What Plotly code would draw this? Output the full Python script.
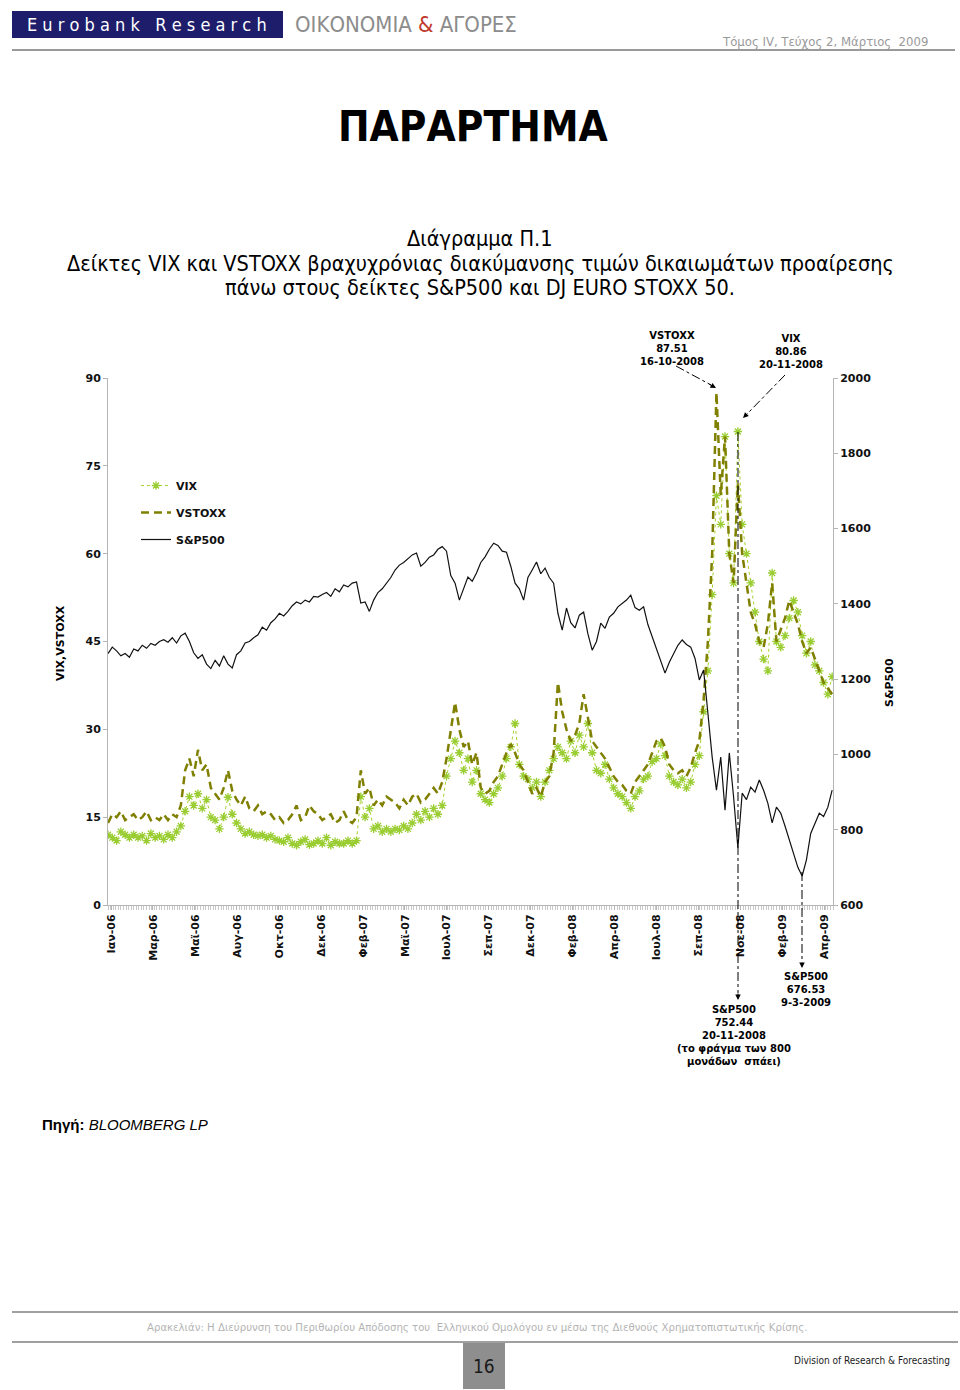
import plotly.graph_objects as go

# ---------------- data (weekly samples) ----------------
tick_labels = ["Ιαν-06", "Μαρ-06", "Μαϊ-06", "Αυγ-06", "Οκτ-06", "Δεκ-06", "Φεβ-07", "Μαϊ-07",
               "Ιουλ-07", "Σεπ-07", "Δεκ-07", "Φεβ-08", "Απρ-08", "Ιουλ-08", "Σεπ-08", "Νοε-08",
               "Φεβ-09", "Απρ-09"]

sp500 = [1268, 1285, 1275, 1262, 1268, 1258, 1280, 1275, 1290, 1282,
         1295, 1290, 1300, 1305, 1298, 1310, 1296, 1315, 1322, 1300,
         1270, 1255, 1265, 1240, 1228, 1250, 1235, 1262, 1240, 1230,
         1265, 1275, 1296, 1300, 1310, 1318, 1338, 1330, 1350, 1360,
         1375, 1368, 1380, 1395, 1405, 1400, 1410, 1405, 1420, 1418,
         1425, 1430, 1420, 1440, 1432, 1450, 1445, 1455, 1458, 1402,
         1405, 1380, 1410, 1430, 1440, 1455, 1470, 1490, 1503, 1510,
         1520, 1530, 1535, 1500, 1510, 1524, 1530, 1545, 1552, 1540,
         1475, 1455, 1410, 1440, 1471, 1460, 1482, 1510, 1525, 1545,
         1561, 1555, 1540, 1537, 1500, 1455, 1440, 1410, 1470, 1490,
         1511, 1480, 1495, 1470, 1455, 1375, 1330, 1389, 1350, 1336,
         1370, 1378, 1320, 1277, 1300, 1349, 1335, 1365, 1375, 1392,
         1400, 1410, 1423, 1390, 1383, 1392, 1345, 1312, 1280, 1250,
         1216, 1245, 1269, 1290, 1304, 1292, 1285, 1255, 1198, 1224,
         1110, 993, 905, 993, 852, 1004, 887, 752, 897, 880,
         913, 900, 932, 905, 870, 818, 860, 844, 810, 773,
         740, 700, 677, 720, 790, 818, 844, 835, 860, 905]

vix = [12.0, 11.5, 11.0, 12.5, 12.0, 11.5, 12.0, 11.5, 11.8, 11.0,
       12.2, 11.5, 11.8, 11.2, 12.0, 11.5, 12.5, 13.5, 16.0, 18.5,
       17.0, 19.0, 16.5, 18.0, 15.0, 14.5, 13.0, 15.0, 18.4, 15.5,
       14.0, 13.0, 12.2, 12.5, 12.0, 11.8, 12.0, 11.5, 11.8, 11.2,
       11.0, 10.8, 11.5, 10.5, 10.2, 10.8, 11.2, 10.3, 10.5, 11.0,
       10.5, 11.5, 10.2, 10.8, 10.5, 10.5, 11.0, 10.5, 11.0, 18.5,
       15.0, 16.5, 13.0, 13.5, 12.5, 13.0, 12.5, 13.0, 12.8, 13.5,
       13.0, 14.0, 15.5, 14.5, 16.0, 15.0, 16.5, 15.5, 17.0, 22.0,
       25.0, 28.0, 26.0, 23.0, 25.0, 21.0, 23.0, 19.0, 18.0, 17.5,
       19.0, 20.0, 22.0, 25.0, 27.0, 31.0, 24.0, 22.0, 21.5, 20.0,
       21.0, 18.5, 21.0, 23.0, 25.0, 27.0, 26.0, 25.0, 28.0, 26.0,
       29.0, 27.0, 31.0, 26.0, 23.0, 22.5, 24.0, 21.5, 20.0, 19.0,
       18.5, 17.5, 16.5, 18.5, 19.5, 21.5, 22.0, 24.5, 25.0, 27.5,
       25.5, 22.0, 21.0, 20.5, 21.5, 20.0, 21.0, 24.0, 25.5, 33.0,
       40.0, 53.0, 69.9, 65.0, 80.0, 60.0, 55.0, 80.86, 65.0, 60.0,
       55.0, 50.0, 45.0, 42.0, 40.0, 56.7, 45.0, 44.0, 46.0, 49.0,
       52.0, 50.0, 46.0, 43.0, 45.0, 41.0, 40.0, 38.0, 36.0, 39.0]

vstoxx = [14.0, 15.5, 15.0, 16.0, 14.5, 15.0, 15.5, 14.5, 15.0, 16.0,
          14.5, 15.0, 14.5, 15.5, 14.5, 15.5, 15.0, 17.0, 23.0, 25.0,
          22.0, 26.5, 23.0, 24.0, 20.0, 19.0, 18.0, 20.0, 23.0, 19.5,
          18.0, 17.0, 18.5, 16.5, 16.0, 17.0, 15.5, 16.0, 15.5, 14.5,
          15.0, 14.0, 14.5, 15.5, 17.0, 14.5, 15.0, 17.0, 16.0, 15.5,
          14.5, 15.0, 15.5, 14.0, 14.5, 16.0, 14.5, 14.0, 15.0, 23.0,
          19.0, 20.0, 17.0, 18.0, 17.0, 18.5, 18.0, 17.5, 16.5, 18.0,
          17.0, 18.5, 19.0, 17.5, 18.0, 19.0, 20.0, 19.0, 21.0, 25.0,
          30.0, 34.6, 30.0, 27.0, 28.0, 24.0, 26.0, 20.0, 19.0, 19.5,
          21.0, 22.0, 24.0, 26.0, 27.5, 26.0, 24.0, 23.0, 21.0, 19.0,
          20.0, 18.5, 21.0, 22.0, 26.0, 38.0, 33.0, 30.0, 28.0, 29.0,
          31.0, 36.0, 32.0, 28.0, 27.0, 26.0, 25.0, 23.5, 22.0, 21.0,
          20.5, 19.5, 19.0, 21.0, 22.0, 23.0, 24.0, 26.0, 28.0, 28.5,
          27.0, 24.0, 23.0, 22.5, 23.0, 22.0, 23.5, 26.0, 28.0, 35.0,
          45.0, 60.0, 87.51, 70.0, 80.0, 60.0, 55.0, 72.0, 60.0, 55.0,
          50.0, 48.0, 45.0, 44.0, 48.0, 55.0, 45.0, 47.0, 49.0, 52.0,
          50.0, 48.0, 45.0, 43.0, 44.0, 42.0, 40.0, 38.0, 37.0, 36.0]

days_per_point = 5          # one sample per trading week
label_every = 49            # trading days between category labels
xs = [i * days_per_point for i in range(len(sp500))]
tickvals = [3.5 + label_every * k for k in range(len(tick_labels))]

# ---------------- page geometry helpers ----------------
W, H = 960, 1390
L, R, T, B = 108, 833, 378, 905
NARROW = "DejaVu Sans Condensed, Liberation Sans, sans-serif"
SANS = "Liberation Sans, Arial, sans-serif"
VERD = "DejaVu Sans, Verdana, sans-serif"


def px(x, y):
    return (x - L) / (R - L), (B - y) / (B - T)


fig = go.Figure()

fig.add_trace(go.Scatter(
    x=xs, y=vix, name="VIX", mode="lines+markers", legendgroup="a",
    line=dict(color="#a6d22c", width=1, dash="dot"),
    marker=dict(symbol="asterisk-open", size=7, color="#9acd32",
                line=dict(color="#9acd32", width=1.3)),
))
fig.add_trace(go.Scatter(
    x=xs, y=vstoxx, name="VSTOXX", mode="lines", legendgroup="b",
    line=dict(color="#808000", width=2.5, dash="8px,5px"),
))
fig.add_trace(go.Scatter(
    x=xs, y=sp500, name="S&P500", mode="lines", yaxis="y2", legendgroup="c",
    line=dict(color="#111111", width=1.2),
))

axis_font = dict(family=VERD, size=11, color="#111111", weight="bold")

fig.update_layout(
    width=W, height=H, autosize=False,
    margin=dict(l=L, r=W - R, t=T, b=H - B, pad=0),
    paper_bgcolor="white", plot_bgcolor="white",
    showlegend=True,
    legend=dict(x=px(136, 0)[0], y=px(0, 471)[1], xanchor="left", yanchor="top",
                font=axis_font, bgcolor="rgba(0,0,0,0)", tracegroupgap=8,
                itemwidth=30),
    xaxis=dict(range=[0, 846], tickmode="array", tickvals=tickvals, ticktext=tick_labels,
               tickangle=-90, tickfont=axis_font, showgrid=False, zeroline=False,
               showline=True, linecolor="#b5b5b5", linewidth=1,
               ticks="outside", ticklen=4, tickcolor="#b5b5b5",
               minor=dict(tickmode="linear", tick0=0, dtick=3, ticks="outside",
                          ticklen=4, tickcolor="#c8c8c8")),
    yaxis=dict(range=[0, 90], tickmode="linear", tick0=0, dtick=15, tickfont=axis_font,
               showgrid=False, zeroline=False, showline=True, linecolor="#b5b5b5",
               ticks="outside", ticklen=4, tickcolor="#b5b5b5"),
    yaxis2=dict(range=[600, 2000], tickmode="linear", tick0=600, dtick=200, tickfont=axis_font,
                overlaying="y", side="right", showgrid=False, zeroline=False, showline=True,
                linecolor="#b5b5b5", ticks="outside", ticklen=4, tickcolor="#b5b5b5"),
)

ann = []
shapes = []


def text(x, y, s, size, family=SANS, color="#000", xanchor="center",
         yanchor="middle", weight="normal", angle=0):
    xp, yp = px(x, y)
    ann.append(dict(x=xp, y=yp, xref="paper", yref="paper", text=s, showarrow=False,
                    xanchor=xanchor, yanchor=yanchor, textangle=angle,
                    font=dict(family=family, size=size, color=color, weight=weight)))


def line(x0, y0, x1, y1, color="#000", width=1, dash="solid"):
    a, b = px(x0, y0)
    c, d = px(x1, y1)
    shapes.append(dict(type="line", xref="paper", yref="paper", x0=a, y0=b, x1=c, y1=d,
                       line=dict(color=color, width=width, dash=dash)))


def rect(x0, y0, x1, y1, fill):
    a, b = px(x0, y0)
    c, d = px(x1, y1)
    shapes.append(dict(type="rect", xref="paper", yref="paper", x0=a, y0=b, x1=c, y1=d,
                       fillcolor=fill, line=dict(width=0), layer="below"))


def head(x, y, dx, dy):
    xp, yp = px(x, y)
    ann.append(dict(x=xp, y=yp, xref="paper", yref="paper", text="", showarrow=True,
                    arrowhead=2, arrowsize=1.1, arrowwidth=1, arrowcolor="#000",
                    ax=dx, ay=dy, standoff=0))


# ---- page header ----
rect(12, 11, 283, 38, "#1d1d6b")
text(147, 25, "E u r o b a n k   R e s e a r c h", 18, family=NARROW, color="white")
text(293, 25, "ΟΙΚΟΝΟΜΙΑ <span style='color:#c0392b'>&amp;</span> ΑΓΟΡΕΣ", 22,
     family=NARROW, color="#8c8c8c", xanchor="left")
text(930, 41, "Τόμος IV, Τεύχος 2, Μάρτιος  2009", 13, family=NARROW,
     color="#9a9a9a", xanchor="right")
line(12, 50, 955, 50, color="#9a9a9a", width=2)

# ---- titles ----
text(473, 127, "<b>ΠΑΡΑΡΤΗΜΑ</b>", 42, family=NARROW)
text(480, 238, "Διάγραμμα Π.1", 21.5, family=NARROW)
text(480, 263, "Δείκτες VIX και VSTOXX βραχυχρόνιας διακύμανσης τιμών δικαιωμάτων προαίρεσης",
     21.5, family=NARROW)
text(480, 287, "πάνω στους δείκτες S&amp;P500 και DJ EURO STOXX 50.", 21.5, family=NARROW)

# ---- axis titles ----
text(60, 643, "VIX,VSTOXX", 11, family=VERD, weight="bold", angle=-90)
text(889, 683, "S&amp;P500", 11, family=VERD, weight="bold", angle=-90)

# ---- chart annotations ----
text(672, 348, "VSTOXX<br>87.51<br>16-10-2008", 10, family=VERD, weight="bold")
text(791, 351, "VIX<br>80.86<br>20-11-2008", 10, family=VERD, weight="bold")
text(734, 1035, "S&amp;P500<br>752.44<br>20-11-2008<br>(το φράγμα των 800<br>μονάδων  σπάει)",
     10, family=VERD, weight="bold")
text(806, 989, "S&amp;P500<br>676.53<br>9-3-2009", 10, family=VERD, weight="bold")

line(676, 366, 711, 385, dash="dashdot")
head(716, 388, -8, -4.5)
line(785, 375, 748, 413, dash="dashdot")
head(743, 418, 6, -6)
line(738, 432, 738, 993, dash="dashdot")
head(738, 1000, 0, -8)
line(802, 872, 802, 962, dash="dashdot")
head(802, 968, 0, -7)

# ---- source ----
text(40, 1124, "<b>Πηγή:</b> <i>BLOOMBERG LP</i>", 15, family=SANS, xanchor="left")

# ---- footer ----
line(12, 1312, 958, 1312, color="#a0a0a0", width=2)
text(477, 1327, "Αρακελιάν: Η Διεύρυνση του Περιθωρίου Απόδοσης του  Ελληνικού Ομολόγου "
     "εν μέσω της Διεθνούς Χρηματοπιστωτικής Κρίσης.", 11.3, family=NARROW, color="#b4b4b4")
line(12, 1342, 958, 1342, color="#a0a0a0", width=2)
rect(463, 1343, 505, 1389, "#8e8e8e")
text(484, 1366, "16", 19, family=NARROW, color="#1a1a1a")
text(952, 1360, "Division of Research &amp; Forecasting", 10, family=NARROW,
     color="#1a1a1a", xanchor="right")

fig.update_layout(annotations=ann, shapes=shapes)
fig.write_html("out.html")
